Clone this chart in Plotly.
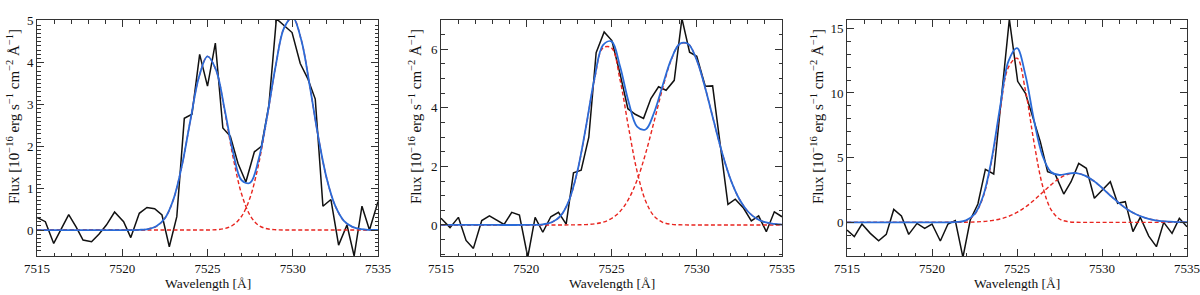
import plotly.graph_objects as go

# ---------------- data ----------------
wl1 = [7515.0, 7515.49, 7515.98, 7516.42, 7516.86, 7517.3, 7517.7, 7518.2, 7518.63, 7519.07,
       7519.55, 7520.08, 7520.5, 7521.0, 7521.45, 7521.9, 7522.33, 7522.76, 7523.2, 7523.64,
       7524.09, 7524.54, 7525.0, 7525.46, 7525.9, 7526.34, 7526.79, 7527.25, 7527.75, 7528.16,
       7528.6, 7529.04, 7529.5, 7529.96, 7530.44, 7530.88, 7531.32, 7531.77, 7532.24, 7532.69,
       7533.18, 7533.6, 7534.06, 7534.5, 7535.0]
flux1 = [0.30, 0.20, -0.32, 0.02, 0.37, 0.07, -0.24, -0.28, -0.10, 0.12,
         0.43, 0.20, -0.18, 0.40, 0.54, 0.51, 0.36, -0.40, 0.32, 2.67,
         2.77, 4.20, 3.44, 4.47, 2.44, 2.24, 1.59, 1.15, 1.87, 2.00,
         2.98, 5.05, 4.88, 4.72, 3.98, 3.62, 3.13, 0.57, 0.73, -0.36,
         0.12, -0.62, 0.57, 0.00, 0.68]

wl2 = [7515.0, 7515.53, 7516.02, 7516.47, 7516.9, 7517.39, 7517.84, 7518.27, 7518.7, 7519.15,
       7519.6, 7520.09, 7520.52, 7520.97, 7521.44, 7521.89, 7522.34, 7522.77, 7523.22, 7523.67,
       7524.1, 7524.57, 7525.02, 7525.5, 7525.96, 7526.39, 7526.88, 7527.31, 7527.76, 7528.2,
       7528.68, 7529.13, 7529.58, 7530.0, 7530.5, 7530.93, 7531.38, 7531.83, 7532.26, 7532.75,
       7533.2, 7533.63, 7534.08, 7534.55, 7535.0]
flux2 = [0.23, -0.09, 0.26, -0.53, -0.80, 0.15, 0.31, 0.17, 0.02, 0.43,
         0.34, -1.10, 0.26, -0.25, 0.28, 0.43, 0.03, 1.78, 1.87, 3.00,
         5.88, 6.59, 6.30, 5.17, 3.97, 3.78, 3.64, 4.32, 4.72, 4.60,
         4.94, 7.05, 5.90, 5.76, 4.74, 4.75, 2.72, 0.70, 0.88, 0.57,
         0.14, 0.31, -0.23, 0.45, 0.28]

wl3 = [7515.0, 7515.43, 7515.88, 7516.37, 7516.86, 7517.31, 7517.75, 7518.2, 7518.63, 7519.12,
       7519.57, 7520.0, 7520.49, 7520.94, 7521.37, 7521.82, 7522.25, 7522.7, 7523.14, 7523.63,
       7524.08, 7524.55, 7525.04, 7525.49, 7525.92, 7526.37, 7526.8, 7527.25, 7527.75, 7528.18,
       7528.63, 7529.08, 7529.55, 7530.0, 7530.49, 7530.92, 7531.37, 7531.82, 7532.25, 7532.75,
       7533.2, 7533.63, 7534.12, 7534.55, 7535.0]
flux3 = [-0.59, -1.10, -0.13, -0.85, -1.42, -0.93, 1.00, 0.49, -0.93, -0.08,
         -0.46, -0.13, -1.44, -0.13, 0.13, -2.70, 0.18, 1.42, 4.10, 3.74,
         9.60, 15.70, 10.90, 10.00, 8.17, 6.24, 3.92, 3.71, 2.19, 3.14,
         4.56, 4.18, 1.86, 2.45, 3.14, 1.47, 1.60, -0.72, 0.39, -1.06,
         -1.88, 0.00, -0.85, 0.31, -0.34]

# wavelength grid on which the fitted components are read
fit_wl = [7515, 7518, 7520, 7521, 7521.5, 7522, 7522.5, 7523, 7523.5, 7524,
          7524.5, 7525, 7525.5, 7526, 7526.5, 7527, 7527.5, 7528, 7528.5, 7529,
          7529.5, 7530, 7530.5, 7531, 7531.5, 7532, 7532.5, 7533, 7533.5, 7534,
          7534.5, 7535]

comp1a = [0, 0, 0.0001, 0.005, 0.023, 0.089, 0.28, 0.73, 1.54, 2.63,
          3.66, 4.15, 3.82, 2.86, 1.74, 0.86, 0.35, 0.11, 0.03, 0.007,
          0.001, 0, 0, 0, 0, 0, 0, 0, 0, 0,
          0, 0]
comp1b = [0, 0, 0, 0, 0, 0, 0, 0, 0, 0,
          0.0005, 0.002, 0.009, 0.036, 0.12, 0.33, 0.78, 1.58, 2.70, 3.92,
          4.84, 5.08, 4.54, 3.44, 2.22, 1.22, 0.57, 0.22, 0.076, 0.021,
          0.005, 0.001]

comp2a = [0, 0, 0.001, 0.023, 0.092, 0.30, 0.82, 1.83, 3.33, 4.96,
          6.05, 6.05, 4.96, 3.33, 1.83, 0.82, 0.30, 0.092, 0.023, 0.005,
          0.001, 0, 0, 0, 0, 0, 0, 0, 0, 0,
          0, 0]
comp2b = [0, 0, 0, 0, 0.0001, 0.0004, 0.0013, 0.0044, 0.013, 0.037,
          0.094, 0.22, 0.46, 0.88, 1.53, 2.44, 3.54, 4.67, 5.63, 6.18,
          6.18, 5.63, 4.67, 3.54, 2.44, 1.53, 0.88, 0.46, 0.22, 0.094,
          0.037, 0.013]

comp3a = [0, 0, 0, 0.0035, 0.026, 0.14, 0.60, 1.93, 4.68, 8.61,
          12.0, 12.69, 10.17, 6.18, 2.85, 0.99, 0.26, 0.053, 0.008, 0.001,
          0, 0, 0, 0, 0, 0, 0, 0, 0, 0,
          0, 0]
comp3b = [0, 0, 0.0002, 0.002, 0.005, 0.013, 0.031, 0.067, 0.137, 0.26,
          0.46, 0.77, 1.19, 1.71, 2.31, 2.90, 3.40, 3.72, 3.80, 3.61,
          3.21, 2.67, 2.06, 1.49, 1.00, 0.63, 0.37, 0.20, 0.10, 0.05,
          0.022, 0.009]

x_range = [7515, 7535]
y_ranges = [[-0.62, 5.02], [-1.06, 7.0], [-2.6, 15.64]]
y_dticks = [1, 2, 5]
y_minor = [0.1, 0.5, 1]
x_ticks = [7515, 7520, 7525, 7530, 7535]

x_title = "Wavelength [Å]"
y_title = "Flux [10<sup>−16</sup> erg s<sup>−1</sup> cm<sup>−2</sup> Å<sup>−1</sup>]"

panels = [
    (wl1, flux1, comp1a, comp1b),
    (wl2, flux2, comp2a, comp2b),
    (wl3, flux3, comp3a, comp3b),
]

# ---------------- layout geometry ----------------
W, H = 1200, 295
x_px = [(37, 378), (441, 782), (847, 1187)]
y_top, y_bot = 20, 256
ytitle_x = [13, 415, 817]
ytitle_y = 117

FONT = "Liberation Serif"
BLACK = "#111111"
BLUE = "#2a6bd8"
RED = "#e8251f"
AX = "#333333"

fig = go.Figure()
annotations = []
for i, (wl, fl, ca, cb) in enumerate(panels):
    xa = "x" if i == 0 else f"x{i+1}"
    ya = "y" if i == 0 else f"y{i+1}"
    total = [a + b for a, b in zip(ca, cb)]
    fig.add_trace(go.Scatter(x=wl, y=fl, mode="lines", xaxis=xa, yaxis=ya,
                             line=dict(color=BLACK, width=1.5), showlegend=False))
    fig.add_trace(go.Scatter(x=fit_wl, y=ca, mode="lines", xaxis=xa, yaxis=ya,
                             line=dict(color=RED, width=1.4, dash="4px,2.5px", shape="spline"),
                             showlegend=False))
    fig.add_trace(go.Scatter(x=fit_wl, y=cb, mode="lines", xaxis=xa, yaxis=ya,
                             line=dict(color=RED, width=1.4, dash="4px,2.5px", shape="spline"),
                             showlegend=False))
    fig.add_trace(go.Scatter(x=fit_wl, y=total, mode="lines", xaxis=xa, yaxis=ya,
                             line=dict(color=BLUE, width=1.8, shape="spline"),
                             showlegend=False))

    x0, x1 = x_px[i]
    xkey = "xaxis" if i == 0 else f"xaxis{i+1}"
    ykey = "yaxis" if i == 0 else f"yaxis{i+1}"
    fig.layout[xkey] = dict(
        domain=[x0 / W, x1 / W], anchor=ya, range=x_range, automargin=False,
        tickmode="array", tickvals=x_ticks, ticktext=[str(t) for t in x_ticks],
        ticks="inside", ticklen=7, tickwidth=1, tickcolor=AX,
        minor=dict(dtick=1, ticks="inside", ticklen=3.5, tickwidth=1, tickcolor=AX),
        showline=True, linecolor=AX, linewidth=1, mirror="allticks",
        showgrid=False, zeroline=False,
        tickfont=dict(family=FONT, size=13, color="#111"),
    )
    fig.layout[ykey] = dict(
        domain=[1 - y_bot / H, 1 - y_top / H], anchor=xa, range=y_ranges[i], automargin=False,
        dtick=y_dticks[i], tick0=0,
        ticks="inside", ticklen=7, tickwidth=1, tickcolor=AX,
        minor=dict(dtick=y_minor[i], tick0=0, ticks="inside", ticklen=3.5, tickwidth=1, tickcolor=AX),
        showline=True, linecolor=AX, linewidth=1, mirror="allticks",
        showgrid=False, zeroline=False,
        tickfont=dict(family=FONT, size=13, color="#111"),
    )
    annotations.append(dict(text=x_title, xref="paper", yref="paper",
                            x=(x0 + x1) / 2 / W, y=1 - 283 / H, xanchor="center", yanchor="middle",
                            showarrow=False, font=dict(family=FONT, size=13.5, color="#111")))
    annotations.append(dict(text=y_title, xref="paper", yref="paper", textangle=-90,
                            x=ytitle_x[i] / W, y=1 - ytitle_y / H, xanchor="center", yanchor="middle",
                            showarrow=False, font=dict(family=FONT, size=15, color="#111")))

fig.update_layout(
    width=W, height=H, margin=dict(l=0, r=0, t=0, b=0),
    paper_bgcolor="white", plot_bgcolor="white",
    annotations=annotations, showlegend=False,
)

fig.write_html("out.html", config={"displayModeBar": False},
               post_script="document.body.style.margin='0';document.body.style.overflow='hidden';")
